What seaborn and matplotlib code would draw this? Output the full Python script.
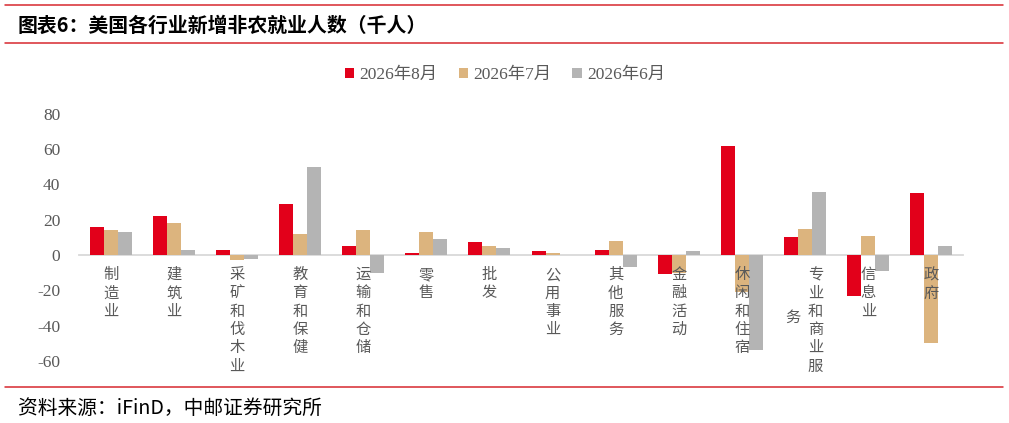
import numpy as np
import pandas as pd
import matplotlib
matplotlib.use("Agg")
import matplotlib.pyplot as plt
from matplotlib.patches import Patch
from matplotlib.lines import Line2D
import seaborn as sns

categories = ['制造业', '建筑业', '采矿和伐木业', '教育和保健', '运输和仓储', '零售', '批发',
              '公用事业', '其他服务', '金融活动', '休闲和住宿', '专业和商业服务', '信息业', '政府']
aug = [16, 22, 3, 29, 5, 1, 7.5, 2, 3, -11, 62, 10, -23, 35]
jul = [14, 18, -3, 12, 14, 13, 5, 1, 8, -10, -21, 15, 11, -50]
jun = [13, 3, -2, 50, -10, 9, 4, 0, -7, 2, -54, 36, -9, 5]
series_names = ['2026年8月', '2026年7月', '2026年6月']
colors = ['#E2001A', '#DCB47E', '#B4B4B4']
yticks = [-60, -40, -20, 0, 20, 40, 60, 80]

title = '图表6：美国各行业新增非农就业人数（千人）'
source = '资料来源：iFinD，中邮证券研究所'

sns.set_theme(style='white')
plt.rcParams['font.family'] = ['Noto Sans CJK SC', 'DejaVu Sans']
plt.rcParams['axes.unicode_minus'] = False

df = pd.DataFrame({
    '行业': categories * 3,
    '值': aug + jul + jun,
    '月份': [series_names[0]] * len(categories) + [series_names[1]] * len(categories)
           + [series_names[2]] * len(categories),
})

W, H = 1009, 423
fig = plt.figure(figsize=(W / 100, H / 100), dpi=100)
# axes: x 79..963 px, y 80 at 114 px, -60 at 360.75 px
left, right = 79 / W, 963 / W
top_px, bot_px = 114, 360.75
ax = fig.add_axes([left, 1 - bot_px / H, right - left, (bot_px - top_px) / H])

sns.barplot(data=df, x='行业', y='值', hue='月份', hue_order=series_names,
            palette=colors, width=0.665, gap=0, linewidth=0, saturation=1,
            legend=False, ax=ax)

ax.set_ylim(-60, 80)
ax.set_xlim(-0.5, len(categories) - 0.5)
ax.set_xlabel('')
ax.set_ylabel('')
ax.set_yticks(yticks)
ax.set_yticklabels([str(v) for v in yticks], family=['Liberation Serif'], fontsize=12.5,
                   color='#595959')
ax.tick_params(axis='y', length=0, pad=13.5)

for s in ['left', 'top', 'right']:
    ax.spines[s].set_visible(False)
ax.spines['bottom'].set_position(('data', 0))
ax.spines['bottom'].set_color('#D9D9D9')
ax.spines['bottom'].set_linewidth(1.3)
ax.spines['bottom'].set_zorder(0.5)
bounds = np.arange(-0.5, len(categories), 1.0)
ax.set_xticks(bounds)
ax.set_xticklabels([''] * len(bounds))
ax.tick_params(axis='x', length=4, width=1.2, color='#D9D9D9', direction='out')

lab_kw = dict(xycoords='data', textcoords='offset points', ha='center', va='top',
              fontsize=11, color='#595959', family=['Noto Sans CJK SC'],
              linespacing=1.1, annotation_clip=False, zorder=5)
for i, name in enumerate(categories):
    if name == '专业和商业服务':
        ax.annotate('\n'.join(name[:-1]), xy=(i, 0), xytext=(7.5, -8), **lab_kw)
        ax.annotate(name[-1], xy=(i, 0), xytext=(-9, -39), **lab_kw)
    else:
        ax.annotate('\n'.join(name), xy=(i, 0), xytext=(0, -8), **lab_kw)

handles = [Patch(facecolor=c, edgecolor='none') for c in colors]
fig.legend(handles, series_names, loc='center', bbox_to_anchor=(505 / W, 1 - 75 / H),
           ncol=3, frameon=False, handlelength=0.55, handleheight=0.55,
           handletextpad=0.3, columnspacing=1.2,
           prop={'family': ['Liberation Serif', 'Noto Sans CJK SC'], 'size': 12.5},
           labelcolor='#595959')

red = '#D7282F'
for ypx in (5.5, 43.5, 387):
    fig.add_artist(Line2D([5 / W, 1003 / W], [1 - ypx / H, 1 - ypx / H],
                          color=red, linewidth=1.1, transform=fig.transFigure))

fig.text(18 / W, 1 - 25 / H, title, ha='left', va='center', fontsize=14.3,
         fontweight='bold', color='black', family=['Noto Sans CJK SC'])
fig.text(18 / W, 1 - 408 / H, source, ha='left', va='center', fontsize=14.2,
         color='black', family=['Noto Sans CJK SC'])

fig.savefig('out.png', dpi=100)
